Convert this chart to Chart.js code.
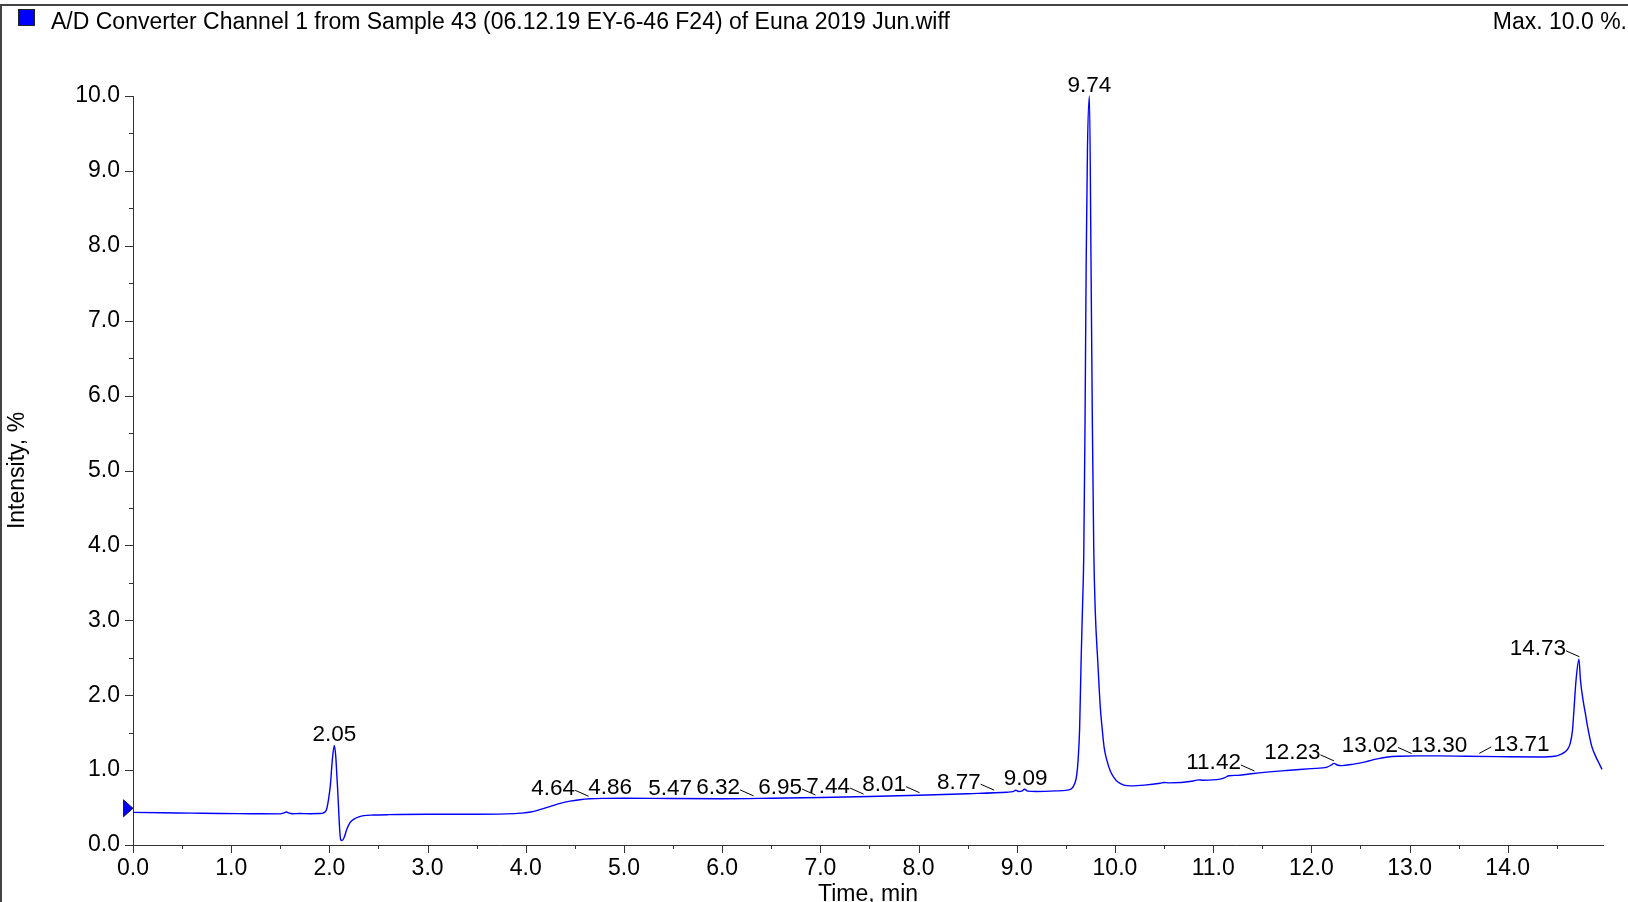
<!DOCTYPE html>
<html>
<head>
<meta charset="utf-8">
<script src="https://cdn.jsdelivr.net/npm/chart.js@4.4.0/dist/chart.umd.min.js"></script>
<style>
html,body{margin:0;padding:0;background:#fff;overflow:hidden}
#wrap{width:1628px;height:902px;position:relative;background:#fff}
canvas{display:block}
</style>
</head>
<body>
<div id="wrap"><canvas id="c" width="1628" height="902"></canvas></div>
<script>
// ---------------- data ----------------
const chartTitle = 'A/D Converter Channel 1 from Sample 43 (06.12.19 EY-6-46 F24) of Euna 2019 Jun.wiff';
const maxLabel = 'Max. 10.0 %.';
const xAxisTitle = 'Time, min';
const yAxisTitle = 'Intensity, %';

const timeMin = [
  0.00, 0.30, 0.60, 0.90, 1.20, 1.50, 1.54, 1.56, 1.59, 1.62, 1.70, 1.80, 1.90, 1.94, 1.97, 1.99,
  2.01, 2.03, 2.05, 2.065, 2.075, 2.085, 2.095, 2.105, 2.115, 2.13, 2.15, 2.18, 2.21, 2.25, 2.30, 2.35,
  2.45, 2.60, 3.00, 3.50, 3.80, 3.95, 4.05, 4.15, 4.25, 4.35, 4.45, 4.55, 4.65, 4.80, 5.00, 5.50,
  6.00, 6.50, 7.00, 7.50, 8.00, 8.50, 8.90, 8.96, 8.99, 9.02, 9.05, 9.08, 9.11, 9.20, 9.40, 9.50,
  9.56, 9.59, 9.61, 9.625, 9.64, 9.655, 9.67, 9.682, 9.695, 9.707, 9.72, 9.74, 9.756, 9.77, 9.784, 9.80,
  9.825, 9.85, 9.87, 9.89, 9.92, 9.955, 9.99, 10.03, 10.09, 10.16, 10.30, 10.46, 10.50, 10.55, 10.80, 10.85,
  10.90, 11.07, 11.12, 11.16, 11.25, 11.41, 11.75, 12.00, 12.16, 12.20, 12.23, 12.27, 12.31, 12.43, 12.55, 12.67,
  12.78, 12.90, 13.07, 13.30, 13.58, 13.90, 14.33, 14.48, 14.54, 14.58, 14.61, 14.637, 14.66, 14.672, 14.696, 14.725,
  14.74, 14.765, 14.79, 14.81, 14.855, 14.90, 14.93, 14.96
];
const intensityPct = [
  0.435, 0.43, 0.425, 0.42, 0.418, 0.415, 0.43, 0.44, 0.425, 0.418, 0.42, 0.418, 0.42, 0.43, 0.47, 0.60,
  0.80, 1.14, 1.33, 1.18, 0.95, 0.72, 0.45, 0.20, 0.07, 0.06, 0.10, 0.22, 0.30, 0.345, 0.375, 0.392,
  0.40, 0.405, 0.41, 0.41, 0.415, 0.425, 0.44, 0.475, 0.515, 0.555, 0.585, 0.605, 0.617, 0.623, 0.625, 0.62,
  0.618, 0.625, 0.635, 0.648, 0.665, 0.685, 0.705, 0.712, 0.73, 0.715, 0.72, 0.745, 0.72, 0.715, 0.722, 0.73,
  0.755, 0.82, 0.93, 1.14, 1.55, 2.45, 3.2, 3.85, 5.6, 7.8, 9.3, 10.0, 7.8, 5.6, 3.95, 3.1,
  2.45, 1.85, 1.55, 1.30, 1.12, 0.98, 0.90, 0.84, 0.80, 0.79, 0.80, 0.825, 0.835, 0.83, 0.855, 0.87,
  0.865, 0.88, 0.90, 0.925, 0.93, 0.955, 0.995, 1.02, 1.04, 1.065, 1.09, 1.065, 1.06, 1.08, 1.11, 1.15,
  1.175, 1.185, 1.19, 1.19, 1.185, 1.18, 1.175, 1.185, 1.21, 1.24, 1.28, 1.36, 1.54, 1.76, 2.21, 2.48,
  2.21, 1.95, 1.76, 1.60, 1.32, 1.17, 1.09, 1.01
];

const peakLabels = ['2.05','4.64','4.86','5.47','6.32','6.95','7.44','8.01','8.77','9.09','9.74','11.42','12.23','13.02','13.30','13.71','14.73'];
const peakLabelSide = ['c','l','c','c','l','l','l','l','l','c','c','l','l','l','c','r','l'];

const xTickValues = [0,0.5,1,1.5,2,2.5,3,3.5,4,4.5,5,5.5,6,6.5,7,7.5,8,8.5,9,9.5,10,10.5,11,11.5,12,12.5,13,13.5,14,14.5];
const yTickValues = [0,0.5,1,1.5,2,2.5,3,3.5,4,4.5,5,5.5,6,6.5,7,7.5,8,8.5,9,9.5,10];
const xRange = [0, 14.97];
const yRange = [0, 10];
const startMarkerValue = 0.49;

// ---------------- style ----------------
const FONT = '"Liberation Sans", Arial, Helvetica, sans-serif';
const FS = 23;
const LFS = 22.5;
const isMajor = v => Math.abs(v - Math.round(v)) < 1e-9;

function anchorValue(t) {
  let best = null;
  for (let i = 0; i < timeMin.length; i++) {
    if (Math.abs(timeMin[i] - t) <= 0.02) {
      if (best === null || intensityPct[i] > best) best = intensityPct[i];
    }
  }
  if (best !== null) return best;
  for (let i = 0; i < timeMin.length - 1; i++) {
    if (t >= timeMin[i] && t <= timeMin[i + 1]) {
      const f = (t - timeMin[i]) / (timeMin[i + 1] - timeMin[i]);
      return intensityPct[i] + f * (intensityPct[i + 1] - intensityPct[i]);
    }
  }
  return intensityPct[intensityPct.length - 1];
}

const decor = {
  id: 'decor',
  afterDraw(chart) {
    const ctx = chart.ctx;
    const xs = chart.scales.x, ys = chart.scales.y;
    const area = chart.chartArea;
    ctx.save();

    // minor / major ticks
    ctx.strokeStyle = '#333';
    ctx.lineWidth = 1;
    ctx.beginPath();
    xs.ticks.forEach(tk => {
      const px = Math.round(xs.getPixelForValue(tk.value)) + 0.5;
      const len = isMajor(tk.value) ? 8 : 4;
      ctx.moveTo(px, area.bottom);
      ctx.lineTo(px, area.bottom + len);
    });
    ys.ticks.forEach(tk => {
      const py = Math.round(ys.getPixelForValue(tk.value)) + 0.5;
      const len = isMajor(tk.value) ? 8 : 4;
      ctx.moveTo(area.left, py);
      ctx.lineTo(area.left - len, py);
    });
    ctx.stroke();

    // frame
    ctx.strokeStyle = '#444';
    ctx.lineWidth = 2;
    ctx.beginPath();
    ctx.moveTo(1, chart.height);
    ctx.lineTo(1, 5);
    ctx.lineTo(chart.width, 5);
    ctx.stroke();

    // legend square
    ctx.fillStyle = '#0000ff';
    ctx.fillRect(18, 9, 17, 17);
    ctx.strokeStyle = '#222';
    ctx.lineWidth = 1;
    ctx.strokeRect(18.5, 9.5, 16, 16);

    // header text
    ctx.fillStyle = '#000';
    ctx.font = FS + 'px ' + FONT;
    ctx.textBaseline = 'middle';
    ctx.textAlign = 'left';
    ctx.fillText(chartTitle, 51, 23);
    ctx.textAlign = 'right';
    ctx.fillText(maxLabel, chart.width - 1, 23);

    // start marker triangle
    const my = ys.getPixelForValue(startMarkerValue);
    ctx.beginPath();
    ctx.moveTo(area.left - 9.5, my - 8.5);
    ctx.lineTo(area.left, my);
    ctx.lineTo(area.left - 9.5, my + 8.5);
    ctx.closePath();
    ctx.fillStyle = '#0000ff';
    ctx.fill();
    ctx.strokeStyle = '#222';
    ctx.lineWidth = 1;
    ctx.stroke();

    // peak labels
    ctx.font = LFS + 'px ' + FONT;
    ctx.textBaseline = 'alphabetic';
    ctx.fillStyle = '#000';
    ctx.strokeStyle = '#000';
    ctx.lineWidth = 1;
    peakLabels.forEach((lab, i) => {
      const t = parseFloat(lab);
      const ax = xs.getPixelForValue(t);
      const ay = ys.getPixelForValue(anchorValue(t));
      const side = peakLabelSide[i];
      if (side === 'c') {
        ctx.textAlign = 'center';
        ctx.fillText(lab, ax, ay - 4);
      } else if (side === 'l') {
        ctx.textAlign = 'right';
        ctx.fillText(lab, ax - 13.5, ay - 4);
        ctx.beginPath();
        ctx.moveTo(ax - 13.5, ay - 8.5);
        ctx.lineTo(ax, ay - 2.5);
        ctx.stroke();
      } else {
        ctx.textAlign = 'left';
        ctx.fillText(lab, ax + 14, ay - 5);
        ctx.beginPath();
        ctx.moveTo(ax, ay - 3);
        ctx.lineTo(ax + 12, ay - 9.5);
        ctx.stroke();
      }
    });
    ctx.restore();
  }
};

const points = timeMin.map((t, i) => ({ x: t, y: intensityPct[i] }));

new Chart(document.getElementById('c').getContext('2d'), {
  type: 'scatter',
  data: {
    datasets: [{
      data: points,
      showLine: true,
      borderColor: '#0000ff',
      backgroundColor: '#0000ff',
      borderWidth: 1.4,
      pointRadius: 0,
      pointHoverRadius: 0,
      cubicInterpolationMode: 'monotone',
      fill: false,
      clip: 8
    }]
  },
  options: {
    responsive: false,
    animation: false,
    devicePixelRatio: 1,
    events: [],
    layout: { padding: { top: 96, right: 25, bottom: 0, left: 0 } },
    plugins: { legend: { display: false }, tooltip: { enabled: false }, title: { display: false } },
    scales: {
      x: {
        type: 'linear',
        min: xRange[0],
        max: xRange[1],
        afterBuildTicks: s => { s.ticks = xTickValues.map(v => ({ value: v })); },
        afterFit: s => { s.height = 57; },
        ticks: {
          autoSkip: false, maxRotation: 0, minRotation: 0, padding: 2, color: '#000',
          font: { family: FONT, size: FS },
          callback: v => isMajor(v) ? Number(v).toFixed(1) : ''
        },
        grid: { display: true, drawOnChartArea: false, drawTicks: true, tickLength: 8, tickColor: 'rgba(0,0,0,0)' },
        border: { display: true, color: '#333', width: 1 },
        title: { display: true, text: xAxisTitle, color: '#000', font: { family: FONT, size: FS }, padding: { top: 0, bottom: -6 } }
      },
      y: {
        type: 'linear',
        min: yRange[0],
        max: yRange[1],
        afterBuildTicks: s => { s.ticks = yTickValues.map(v => ({ value: v })); },
        afterFit: s => { s.width = 133; },
        ticks: {
          autoSkip: false, padding: 5, color: '#000',
          font: { family: FONT, size: FS },
          callback: v => isMajor(v) ? Number(v).toFixed(1) : ''
        },
        grid: { display: true, drawOnChartArea: false, drawTicks: true, tickLength: 8, tickColor: 'rgba(0,0,0,0)' },
        border: { display: true, color: '#333', width: 1 },
        title: { display: true, text: yAxisTitle, color: '#000', font: { family: FONT, size: FS }, padding: { top: 4, bottom: 0 } }
      }
    }
  },
  plugins: [decor]
});
</script>
</body>
</html>
